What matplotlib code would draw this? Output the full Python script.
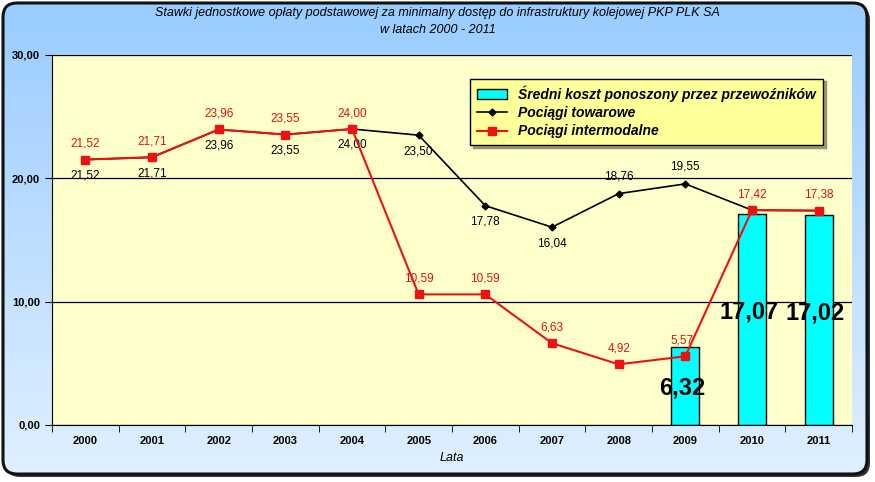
import numpy as np
import matplotlib.pyplot as plt
from matplotlib.patches import FancyBboxPatch

plt.rcParams['font.family'] = ['Liberation Sans', 'DejaVu Sans']

years = ['2000', '2001', '2002', '2003', '2004', '2005', '2006', '2007', '2008', '2009', '2010', '2011']
towarowe = [21.52, 21.71, 23.96, 23.55, 24.00, 23.50, 17.78, 16.04, 18.76, 19.55, 17.42, 17.38]
intermodalne = [21.52, 21.71, 23.96, 23.55, 24.00, 10.59, 10.59, 6.63, 4.92, 5.57, 17.42, 17.38]
sredni = [np.nan] * 9 + [6.32, 17.07, 17.02]

def fmt(v):
    return f'{v:.2f}'.replace('.', ',')

fig = plt.figure(figsize=(8.75, 4.82), dpi=100)

# background: blue gradient inside rounded frame
bg = fig.add_axes([0, 0, 1, 1], zorder=-10)
grad = np.linspace(0, 1, 256)[:, None]
top = np.array([0.60, 0.80, 1.00])
bot = np.array([0.88, 0.94, 1.00])
img = top + (bot - top) * grad[:, :, None]
shadow = FancyBboxPatch((6, 6), 864, 471, boxstyle='round,pad=0,rounding_size=14',
                        fc='#333333', ec='none', zorder=0)
bg.add_patch(shadow)
im = bg.imshow(img, extent=[3, 867, 474, 3], aspect='auto', zorder=1)
clip = FancyBboxPatch((3, 3), 864, 471, boxstyle='round,pad=0,rounding_size=14',
                      fc='none', ec='none', transform=bg.transData)
im.set_clip_path(clip)
frame = FancyBboxPatch((3, 3), 864, 471, boxstyle='round,pad=0,rounding_size=14',
                       fc='none', ec='#111111', lw=2.2, zorder=2)
bg.add_patch(frame)
bg.set_xlim(0, 875)
bg.set_ylim(482, 0)
bg.axis('off')

fig.text(0.5, 0.972, 'Stawki jednostkowe opłaty podstawowej za minimalny dostęp do infrastruktury kolejowej PKP PLK SA',
         ha='center', va='center', fontsize=9, style='italic')
fig.text(0.5, 0.937, 'w latach 2000 - 2011', ha='center', va='center', fontsize=9, style='italic')

ax = fig.add_axes([52 / 875, 57 / 482, 800 / 875, 370 / 482])
ax.set_facecolor('#FFFFCC')
x = np.arange(len(years))

b = ax.bar(x, sredni, width=0.42, color='#00FFFF', edgecolor='black', lw=1, zorder=2,
           label='Średni koszt ponoszony przez przewoźników')
l1, = ax.plot(x, towarowe, color='black', marker='D', ms=3.5, lw=1.2, zorder=3, label='Pociągi towarowe')
l2, = ax.plot(x, intermodalne, color='#EE1111', marker='s', ms=6, lw=1.5, zorder=4, label='Pociągi intermodalne')

# black labels: below except 2008, 2009 above; none where red covers (2010-2011)
for i in range(10):
    v = towarowe[i]
    if i in (8, 9):
        ax.text(i, v + 0.9, fmt(v), ha='center', va='bottom', fontsize=8.5, color='black')
    else:
        ax.text(i, v - 0.8, fmt(v), ha='center', va='top', fontsize=8.5, color='black')
for i, v in enumerate(intermodalne):
    dx = -0.05 if i == 9 else 0
    ax.text(i + dx, v + 0.8, fmt(v), ha='center', va='bottom', fontsize=8.5, color='#DD1111')
for i, v in enumerate(sredni):
    if not np.isnan(v):
        yy = 3.0 if v < 10 else v / 2 + 0.6
        ax.text(i - 0.05, yy, fmt(v), ha='center', va='center', fontsize=17,
                fontweight='bold', color='black', zorder=5)

ax.set_xlim(-0.5, len(years) - 0.5)
ax.set_ylim(0, 30)
ax.set_yticks([0, 10, 20, 30])
ax.set_yticklabels([fmt(v) for v in [0, 10, 20, 30]], fontsize=8, fontweight='bold')
ax.yaxis.grid(True, color='black', lw=0.9)
ax.set_axisbelow(True)
ax.set_xticks(x)
ax.set_xticklabels(years, fontsize=8, fontweight='bold')
ax.tick_params(axis='x', length=0, pad=8)
ax.set_xticks(np.arange(-0.5, len(years), 1), minor=True)
ax.tick_params(axis='x', which='minor', length=5, direction='out')
ax.tick_params(axis='y', length=5, direction='out')
for s in ['top', 'right']:
    ax.spines[s].set_visible(False)
ax.set_xlabel('Lata', fontsize=9, style='italic', labelpad=4)

leg = ax.legend([b, l1, l2], [b.get_label(), l1.get_label(), l2.get_label()],
                loc='upper right', bbox_to_anchor=(0.9725, 0.955), fancybox=False,
                shadow=True, facecolor='#FFFF99', edgecolor='black', framealpha=1,
                prop={'size': 10, 'weight': 'bold', 'style': 'italic'},
                handlelength=2.2, borderpad=0.5, labelspacing=0.3)
leg.get_frame().set_linewidth(1)

fig.savefig('out.png', dpi=100)
